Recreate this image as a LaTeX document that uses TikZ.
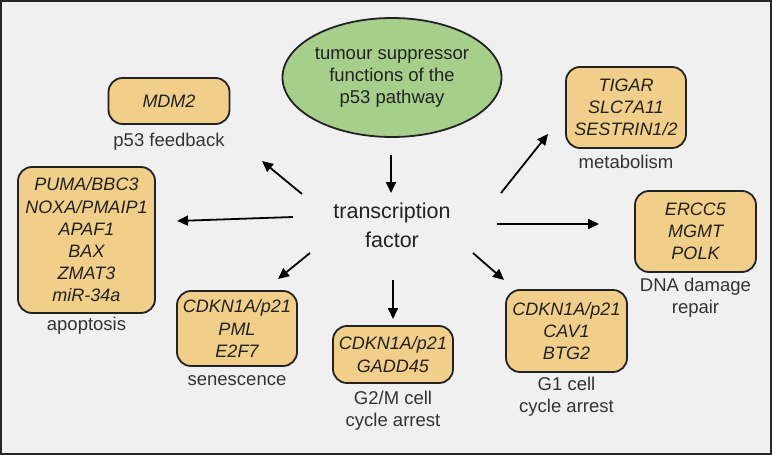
\documentclass[tikz,border=0pt]{standalone}
\usepackage{fontspec}
\setmainfont{Liberation Sans}
\usetikzlibrary{shapes.geometric,arrows.meta}
\definecolor{bgc}{HTML}{F0F0F0}
\definecolor{ylw}{HTML}{F1CF8A}
\definecolor{grn}{HTML}{A7CF8C}
\definecolor{txt}{HTML}{222222}
\definecolor{lbl}{HTML}{333333}
\tikzset{
  gene/.style={draw=txt, line width=1.8pt, fill=ylw, rounded corners=14pt, align=center,
    inner sep=0pt, text=txt, font=\fontsize{18}{22.2}\selectfont\itshape},
  lab/.style={align=center, inner sep=0pt, text=lbl, font=\fontsize{18.5}{22}\selectfont},
  arr/.style={line width=1.8pt, draw=black, -{Triangle[length=11pt,width=10pt]}}
}
\begin{document}
\begin{tikzpicture}[x=1pt,y=-1pt]
\path[use as bounding box] (0,0) rectangle (772,455);
\draw[fill=bgc, draw=black!85, line width=2pt] (1,1) rectangle (771,454);

\node[ellipse, draw=txt, line width=1.8pt, fill=grn, minimum width=219pt, minimum height=119pt,
  align=center, inner sep=0pt, text=txt, font=\fontsize{18.5}{22}\selectfont] (top) at (392,77.5)
  {tumour suppressor\\functions of the\\p53 pathway};

\node[align=center, inner sep=0pt, text=txt, font=\fontsize{21.5}{29}\selectfont] (tf) at (392,225)
  {transcription\\factor};

\node[gene, minimum width=121pt, minimum height=46pt] (mdm) at (169,101) {MDM2};
\node[lab] (mdml) at (169,142) {p53 feedback};

\node[gene, minimum width=137pt, minimum height=146pt] (apo) at (86.5,240)
  {PUMA/BBC3\\NOXA/PMAIP1\\APAF1\\BAX\\ZMAT3\\miR-34a};
\node[lab] (apol) at (86.5,326) {apoptosis};

\node[gene, minimum width=120pt, minimum height=75pt] (sen) at (237,328.5)
  {CDKN1A/p21\\PML\\E2F7};
\node[lab] (senl) at (237,381) {senescence};

\node[gene, minimum width=120pt, minimum height=57pt] (g2m) at (393,354.5)
  {CDKN1A/p21\\GADD45};
\node[lab] (g2ml) at (393,411) {G2/M cell\\cycle arrest};

\node[gene, minimum width=121pt, minimum height=82pt] (g1) at (566.5,331)
  {CDKN1A/p21\\CAV1\\BTG2};
\node[lab] (g1l) at (566.5,397) {G1 cell\\cycle arrest};

\node[gene, minimum width=121pt, minimum height=81pt] (dna) at (695.5,231.5)
  {ERCC5\\MGMT\\POLK};
\node[lab] (dnal) at (695.5,298) {DNA damage\\repair};

\node[gene, minimum width=120pt, minimum height=81pt] (met) at (626,107.5)
  {TIGAR\\SLC7A11\\SESTRIN1/2};
\node[lab] (metl) at (626,162) {metabolism};

% arrow end points
\coordinate (a1s) at (391,155); \coordinate (a1e) at (391,193);
\coordinate (a2s) at (302,194); \coordinate (a2e) at (262,161);
\coordinate (a3s) at (293,217); \coordinate (a3e) at (177,221);
\coordinate (a4s) at (310,253); \coordinate (a4e) at (278,279);
\coordinate (a5s) at (393,280); \coordinate (a5e) at (393,319);
\coordinate (a6s) at (473,253); \coordinate (a6e) at (504,280);
\coordinate (a7s) at (497,224); \coordinate (a7e) at (599,224);
\coordinate (a8s) at (501,193); \coordinate (a8e) at (548,134);

\draw[arr] (a1s) -- (a1e);
\draw[arr] (a2s) -- (a2e);
\draw[arr] (a3s) -- (a3e);
\draw[arr] (a4s) -- (a4e);
\draw[arr] (a5s) -- (a5e);
\draw[arr] (a6s) -- (a6e);
\draw[arr] (a7s) -- (a7e);
\draw[arr] (a8s) -- (a8e);
\end{tikzpicture}
\end{document}
